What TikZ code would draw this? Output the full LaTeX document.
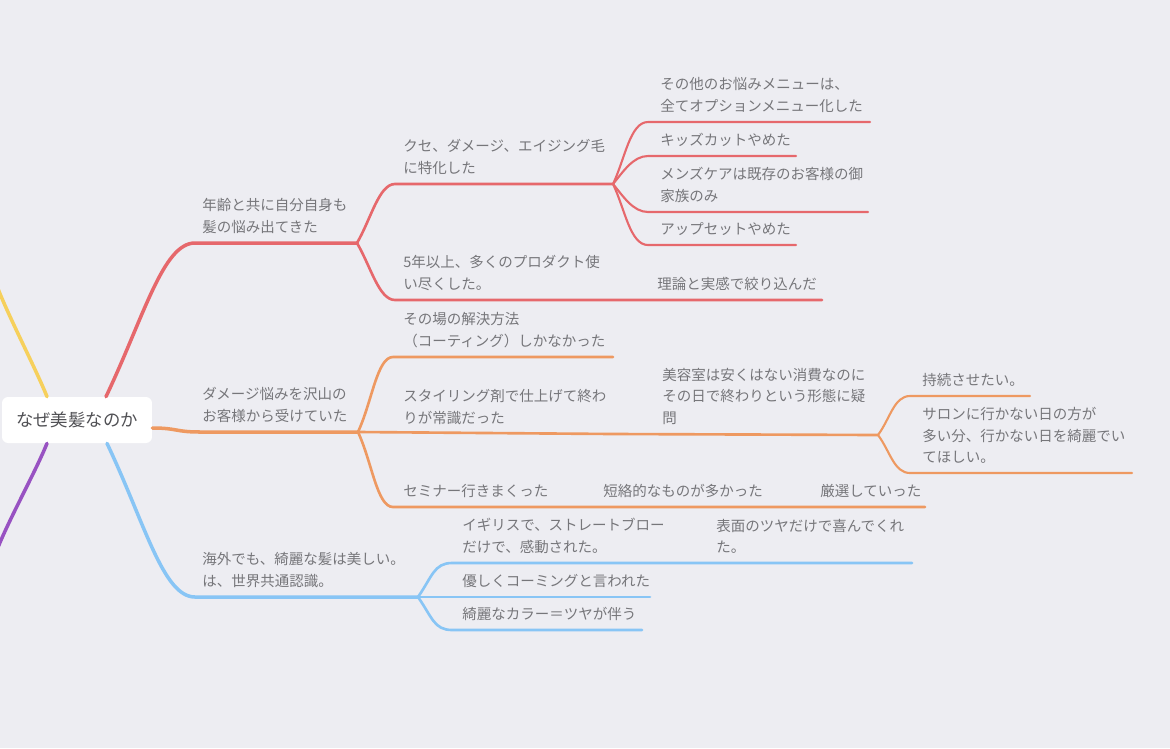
\documentclass[tikz,border=0pt]{standalone}
\usepackage{fontspec}
\setmainfont{Noto Sans CJK JP}
\usetikzlibrary{positioning}
\definecolor{mmbg}{RGB}{237,237,242}
\definecolor{mmred}{RGB}{230,104,108}
\definecolor{mmorange}{RGB}{238,153,97}
\definecolor{mmblue}{RGB}{136,197,245}
\definecolor{mmyellow}{RGB}{246,208,92}
\definecolor{mmpurple}{RGB}{152,82,194}
\definecolor{mmtext}{RGB}{118,118,122}
\definecolor{mmroot}{RGB}{80,80,84}

\tikzset{
  topic/.style={anchor=south west, inner sep=0pt, align=left, text=mmtext,
    font=\fontsize{8.25}{12.3}\selectfont},
  branch/.style={line width=2pt, line cap=round},
  twig/.style={line width=1.5pt, line cap=round},
  leaf/.style={line width=1.2pt, line cap=round},
}

\begin{document}
\begin{tikzpicture}[x=0.02cm, y=-0.02cm]
    % Canvas
    \fill[mmbg] (0,0) rectangle (1170,748);
    \useasboundingbox (0,0) rectangle (1170,748);
    \clip (0,0) rectangle (1170,748);

    % Root
    \node[fill=white, rounded corners=3.5pt, minimum width=3cm, minimum height=0.92cm,
          text=mmroot, font=\fontsize{9.9}{12}\selectfont] (root) at (77,420) {なぜ美髪なのか};

    % Off-page branches
    \coordinate (yelE) at (-6,278);
    \coordinate (purE) at (-6,558);
    \draw[branch, mmyellow] ([xshift=-0.6cm]root.north) .. controls +(-12,-30) and +(10,30) .. (yelE);
    \draw[branch, mmpurple] ([xshift=-0.6cm]root.south) .. controls +(-12,30) and +(10,-30) .. (purE);

    % Red branch
    \coordinate (ageS) at (195,243);
    \coordinate (ageE) at (357,243);
    \coordinate (kuseS) at (395,184);
    \coordinate (kuseE) at (613,184);
    \coordinate (prodS) at (395,300);
    \coordinate (prodE) at (608,300);
    \coordinate (theoryE) at (822,300);
    \coordinate (menuS) at (648,122);
    \coordinate (menuE) at (870,122);
    \coordinate (kidsS) at (648,156);
    \coordinate (kidsE) at (796,156);
    \coordinate (mensS) at (648,212);
    \coordinate (mensE) at (868,212);
    \coordinate (upS) at (648,245);
    \coordinate (upE) at (796,245);

    \draw[branch, mmred] ([xshift=0.58cm]root.north) .. controls +(38,-80) and +(-32,0) .. (ageS) -- (ageE);
    \draw[twig, mmred] (ageE) .. controls +(14,-24) and +(-16,0) .. (kuseS) -- (kuseE);
    \draw[twig, mmred] (ageE) .. controls +(14,24) and +(-16,0) .. (prodS) -- (prodE) -- (theoryE);
    \draw[leaf, mmred] (kuseE) .. controls +(12,-25) and +(-18,0) .. (menuS) -- (menuE);
    \draw[leaf, mmred] (kuseE) .. controls +(10,-12) and +(-15,0) .. (kidsS) -- (kidsE);
    \draw[leaf, mmred] (kuseE) .. controls +(10,12) and +(-15,0) .. (mensS) -- (mensE);
    \draw[leaf, mmred] (kuseE) .. controls +(12,25) and +(-18,0) .. (upS) -- (upE);

    \node[topic] (age) at (202,234) {年齢と共に自分自身も\\髪の悩み出てきた};
    \node[topic] (kuse) at (403,175) {クセ、ダメージ、エイジング毛\\に特化した};
    \node[topic] (prod) at (403,291) {5年以上、多くのプロダクト使\\い尽くした。};
    \node[topic] (theory) at (657,291) {理論と実感で絞り込んだ};
    \node[topic] (menu) at (660,113) {その他のお悩みメニューは、\\全てオプションメニュー化した};
    \node[topic] (kids) at (660,147) {キッズカットやめた};
    \node[topic] (mens) at (660,203) {メンズケアは既存のお客様の御\\家族のみ};
    \node[topic] (up) at (660,236) {アップセットやめた};

    % Orange branch
    \coordinate (dmgS) at (200,432);
    \coordinate (dmgE) at (358,432);
    \coordinate (spotS) at (393,357);
    \coordinate (spotE) at (613,357);
    \coordinate (styleE) at (613,434);
    \coordinate (doubtE) at (878,435);
    \coordinate (semS) at (393,507);
    \coordinate (semE) at (555,507);
    \coordinate (shortE) at (800,507);
    \coordinate (pickE) at (925,507);
    \coordinate (keepS) at (910,396);
    \coordinate (keepE) at (1030,396);
    \coordinate (wishS) at (910,473);
    \coordinate (wishE) at (1132,473);

    \draw[branch, mmorange] ([yshift=-0.16cm]root.east) .. controls +(25,0) and +(-25,0) .. (dmgS) -- (dmgE);
    \draw[twig, mmorange] (dmgE) .. controls +(14,-30) and +(-16,0) .. (spotS) -- (spotE);
    \draw[twig, mmorange] (dmgE) -- (styleE) -- (doubtE);
    \draw[twig, mmorange] (dmgE) .. controls +(14,30) and +(-16,0) .. (semS) -- (semE) -- (shortE) -- (pickE);
    \draw[leaf, mmorange] (doubtE) .. controls +(12,-16) and +(-16,0) .. (keepS) -- (keepE);
    \draw[leaf, mmorange] (doubtE) .. controls +(12,16) and +(-16,0) .. (wishS) -- (wishE);

    \node[topic] (dmg) at (202,423) {ダメージ悩みを沢山の\\お客様から受けていた};
    \node[topic] (spot) at (403,348) {その場の解決方法\\（コーティング）しかなかった};
    \node[topic] (style) at (403,425) {スタイリング剤で仕上げて終わ\\りが常識だった};
    \node[topic] (doubt) at (662,425) {美容室は安くはない消費なのに\\その日で終わりという形態に疑\\問};
    \node[topic] (keep) at (922,387) {持続させたい。};
    \node[topic] (wish) at (922,464) {サロンに行かない日の方が\\多い分、行かない日を綺麗でい\\てほしい。};
    \node[topic] (sem) at (403,498) {セミナー行きまくった};
    \node[topic] (short) at (603,498) {短絡的なものが多かった};
    \node[topic] (pick) at (820,498) {厳選していった};

    % Blue branch
    \coordinate (abroadS) at (195,597);
    \coordinate (abroadE) at (418,597);
    \coordinate (ukS) at (452,563);
    \coordinate (ukE) at (668,563);
    \coordinate (smileE) at (912,563);
    \coordinate (combS) at (452,597);
    \coordinate (combE) at (650,597);
    \coordinate (colorS) at (452,630);
    \coordinate (colorE) at (642,630);

    \draw[branch, mmblue] ([xshift=0.6cm]root.south) .. controls +(38,80) and +(-32,0) .. (abroadS) -- (abroadE);
    \draw[twig, mmblue] (abroadE) .. controls +(14,-20) and +(-18,0) .. (ukS) -- (ukE) -- (smileE);
    \draw[twig, mmblue] (abroadE) -- (combS) -- (combE);
    \draw[twig, mmblue] (abroadE) .. controls +(14,20) and +(-18,0) .. (colorS) -- (colorE);

    \node[topic] (abroad) at (202,588) {海外でも、綺麗な髪は美しい。\\は、世界共通認識。};
    \node[topic] (uk) at (462,554) {イギリスで、ストレートブロー\\だけで、感動された。};
    \node[topic] (smile) at (716,554) {表面のツヤだけで喜んでくれ\\た。};
    \node[topic] (comb) at (462,588) {優しくコーミングと言われた};
    \node[topic] (color) at (462,621) {綺麗なカラー＝ツヤが伴う};
\end{tikzpicture}
\end{document}
